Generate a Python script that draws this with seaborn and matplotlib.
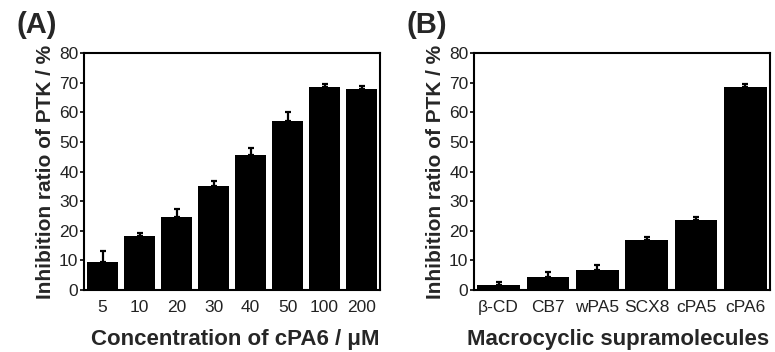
import matplotlib
matplotlib.use("Agg")
import matplotlib.pyplot as plt
import seaborn as sns
import pandas as pd
import numpy as np

conc_labels = ["5", "10", "20", "30", "40", "50", "100", "200"]
conc_values = [9.6, 18.2, 24.5, 35.3, 45.7, 57.1, 68.5, 67.9]
conc_errors = [3.7, 0.9, 3.0, 1.4, 2.3, 3.0, 1.2, 1.0]

macro_labels = ["β-CD", "CB7", "wPA5", "SCX8", "cPA5", "cPA6"]
macro_values = [1.6, 4.3, 6.7, 16.9, 23.6, 68.7]
macro_errors = [1.2, 1.8, 1.7, 1.1, 0.9, 1.0]

sns.set_style("ticks")
plt.rcParams["font.family"] = ["Liberation Sans", "DejaVu Sans"]

W, H = 775, 352
fig = plt.figure(figsize=(W / 100, H / 100), dpi=100)
axA = fig.add_axes([0.1084, 0.176, 0.382, 0.673])
axB = fig.add_axes([0.6116, 0.176, 0.382, 0.673])

def panel(ax, labels, values, errors, width, xlabel, tag, tag_x, xlab_x):
    df = pd.DataFrame({"cat": labels, "val": values})
    sns.barplot(data=df, x="cat", y="val", color="black", width=width,
                saturation=1, ax=ax, edgecolor="black", linewidth=0)
    xs = np.arange(len(labels))
    ax.errorbar(xs, values, yerr=[np.zeros(len(errors)), errors], fmt="none",
                ecolor="black", elinewidth=1.6, capsize=2.5, capthick=1.6)
    ax.set_ylim(0, 80)
    ax.set_xlim(-0.5, len(labels) - 0.5)
    ax.set_yticks(range(0, 81, 10))
    ax.tick_params(axis="y", labelsize=12.5, length=3, width=1.2, colors="black",
                   labelcolor="#222222", pad=1)
    ax.tick_params(axis="x", labelsize=12.5, length=0, labelcolor="#222222", pad=7)
    for s in ax.spines.values():
        s.set_visible(True)
        s.set_linewidth(1.5)
        s.set_color("black")
    ax.set_ylabel("Inhibition ratio of PTK / %", fontsize=15, fontweight="bold", labelpad=3)
    ax.set_xlabel(xlabel, fontsize=16, fontweight="bold")
    ax.xaxis.set_label_coords(xlab_x, -0.165)
    fig.text(tag_x / W, 1 - 11 / H, tag, fontsize=21, fontweight="bold",
             ha="left", va="top")

panel(axA, conc_labels, conc_values, conc_errors, 0.84, "Concentration of cPA6 / μM", "(A)", 16, 0.51)
panel(axB, macro_labels, macro_values, macro_errors, 0.87, "Macrocyclic supramolecules", "(B)", 406, 0.485)

fig.savefig("out.png", dpi=100)
